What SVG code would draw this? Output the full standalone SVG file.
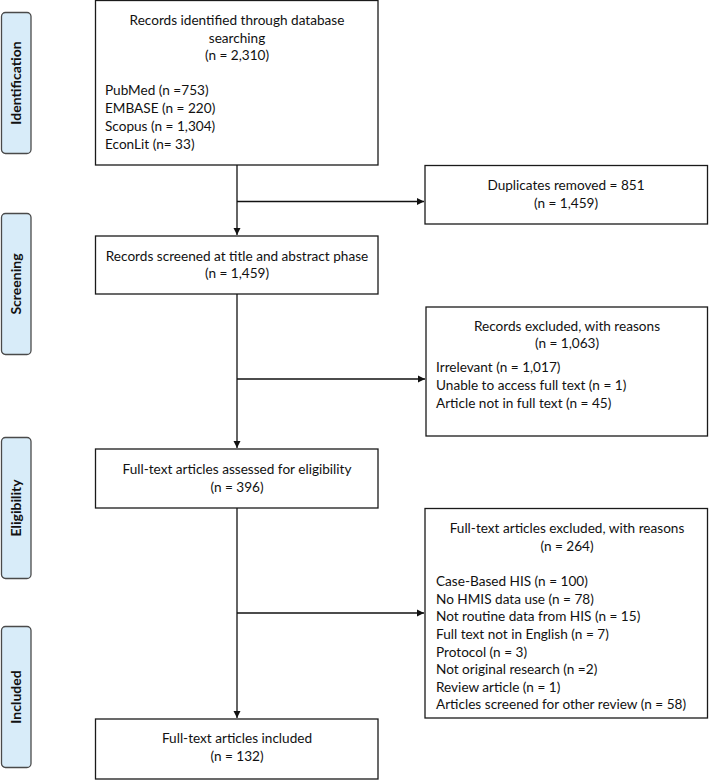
<svg xmlns="http://www.w3.org/2000/svg" width="709" height="780" viewBox="0 0 709 780">
<style>
.box{fill:#fff;stroke:#1a1a1a;stroke-width:1.3}
.phase{fill:#d8ecf9;stroke:#4a4a4a;stroke-width:1.3}
.t{font-family:Lato,"Liberation Sans",sans-serif;font-size:13.6px;fill:#111}
.c{text-anchor:middle}
.ph{font-family:Lato,"Liberation Sans",sans-serif;font-size:14px;font-weight:bold;fill:#111;text-anchor:middle}
.ln{fill:none;stroke:#111;stroke-width:1.3}
</style>
<defs>
<marker id="ah" markerWidth="8" markerHeight="8" refX="7" refY="4" orient="auto" markerUnits="userSpaceOnUse">
<path d="M0,0.5 L7,4 L0,7.5 Z" fill="#111"/>
</marker>
</defs>
<g id="phase-identification"><rect class="phase" x="1.5" y="12.5" width="29.5" height="141" rx="4"/><text class="ph" transform="translate(21,83) rotate(-90)">Identification</text></g>
<g id="phase-screening"><rect class="phase" x="1.5" y="213.5" width="29.5" height="141" rx="4"/><text class="ph" transform="translate(21,284) rotate(-90)">Screening</text></g>
<g id="phase-eligibility"><rect class="phase" x="1.5" y="437.5" width="29.5" height="141" rx="4"/><text class="ph" transform="translate(21,508) rotate(-90)">Eligibility</text></g>
<g id="phase-included"><rect class="phase" x="1.5" y="626.5" width="29.5" height="141" rx="4"/><text class="ph" transform="translate(21,697) rotate(-90)">Included</text></g>

<g id="connectors">
<path class="ln" d="M237,165 V235" marker-end="url(#ah)"/>
<path class="ln" d="M237,201.5 H424" marker-end="url(#ah)"/>
<path class="ln" d="M237,294 V448" marker-end="url(#ah)"/>
<path class="ln" d="M237,379 H425" marker-end="url(#ah)"/>
<path class="ln" d="M237,508 V718" marker-end="url(#ah)"/>
<path class="ln" d="M237,613 H424" marker-end="url(#ah)"/>
</g>

<g id="identified">
<rect class="box" x="95.5" y="0.5" width="282.5" height="164.5"/>
<text class="t c" x="237" y="25">Records identified through database</text>
<text class="t c" x="237" y="42.5">searching</text>
<text class="t c" x="237" y="60">(n = 2,310)</text>
<text class="t" x="105" y="95">PubMed (n =753)</text>
<text class="t" x="105" y="113">EMBASE (n = 220)</text>
<text class="t" x="105" y="131">Scopus (n = 1,304)</text>
<text class="t" x="105" y="149">EconLit (n= 33)</text>
</g>

<g id="duplicates">
<rect class="box" x="425" y="165.5" width="282.5" height="58.5"/>
<text class="t c" x="566" y="190">Duplicates removed = 851</text>
<text class="t c" x="566" y="208">(n = 1,459)</text>
</g>

<g id="screened">
<rect class="box" x="95.5" y="236" width="282.5" height="58"/>
<text class="t c" x="237" y="261">Records screened at title and abstract phase</text>
<text class="t c" x="237" y="278">(n = 1,459)</text>
</g>

<g id="excluded-records">
<rect class="box" x="426" y="307" width="281.5" height="129"/>
<text class="t c" x="567" y="331">Records excluded, with reasons</text>
<text class="t c" x="567" y="348">(n = 1,063)</text>
<text class="t" x="436" y="372">Irrelevant (n = 1,017)</text>
<text class="t" x="436" y="390">Unable to access full text (n = 1)</text>
<text class="t" x="436" y="408">Article not in full text (n = 45)</text>
</g>

<g id="assessed">
<rect class="box" x="95.5" y="449" width="282.5" height="59"/>
<text class="t c" x="237" y="474">Full-text articles assessed for eligibility</text>
<text class="t c" x="237" y="492">(n = 396)</text>
</g>

<g id="excluded-fulltext">
<rect class="box" x="425" y="508.5" width="282.5" height="209.5"/>
<text class="t c" x="567" y="533">Full-text articles excluded, with reasons</text>
<text class="t c" x="567" y="551">(n = 264)</text>
<text class="t" x="436" y="586">Case-Based HIS (n = 100)</text>
<text class="t" x="436" y="603.5">No HMIS data use (n = 78)</text>
<text class="t" x="436" y="621">Not routine data from HIS (n = 15)</text>
<text class="t" x="436" y="639">Full text not in English (n = 7)</text>
<text class="t" x="436" y="656.5">Protocol (n = 3)</text>
<text class="t" x="436" y="674">Not original research (n =2)</text>
<text class="t" x="436" y="691.5">Review article (n = 1)</text>
<text class="t" x="436" y="709">Articles screened for other review (n = 58)</text>
</g>

<g id="included">
<rect class="box" x="95.5" y="719" width="282.5" height="60"/>
<text class="t c" x="237" y="743">Full-text articles included</text>
<text class="t c" x="237" y="761">(n = 132)</text>
</g>
</svg>
